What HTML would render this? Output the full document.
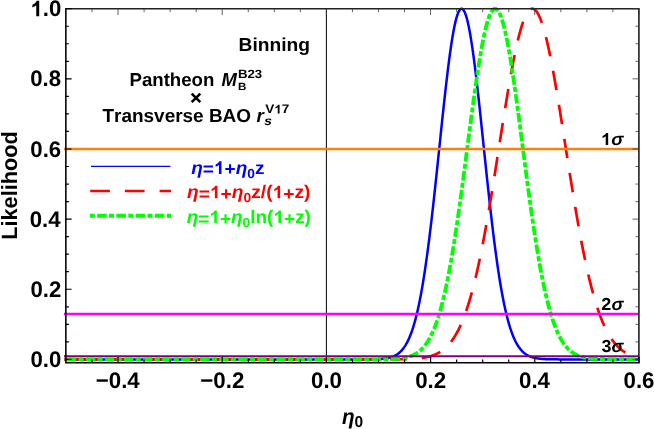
<!DOCTYPE html>
<html><head><meta charset="utf-8"><title>Likelihood</title>
<style>
html,body{margin:0;padding:0;background:#fff;}
body{width:654px;height:429px;overflow:hidden;position:relative;font-family:"Liberation Sans",sans-serif;}
svg{position:absolute;left:0;top:0;display:block;will-change:transform;}
text{font-family:"Liberation Sans",sans-serif;font-weight:bold;text-rendering:geometricPrecision;font-kerning:none;}
</style></head><body>
<svg width="654" height="429" viewBox="0 0 654 429">
<rect x="0" y="0" width="654" height="429" fill="#fff"/>
<defs><clipPath id="cp"><rect x="64.00" y="5.70" width="575.70" height="357.60"/></clipPath></defs>
<g clip-path="url(#cp)">
<line x1="326.40" y1="8.7" x2="326.40" y2="362.7" stroke="#000" stroke-width="1"/>
<path d="M64.00,359.40 L356.20,359.40 L359.71,359.39 L361.71,359.39 L363.21,359.38 L364.21,359.38 L365.21,359.37 L366.21,359.37 L367.21,359.36 L367.71,359.36 L368.21,359.35 L368.71,359.35 L369.21,359.34 L369.71,359.34 L370.21,359.33 L370.71,359.32 L371.21,359.32 L371.71,359.31 L372.21,359.30 L372.71,359.29 L373.21,359.28 L373.72,359.27 L374.22,359.25 L374.72,359.24 L375.22,359.23 L375.72,359.21 L376.22,359.19 L376.72,359.17 L377.22,359.15 L377.72,359.13 L378.22,359.11 L378.72,359.08 L379.22,359.05 L379.72,359.02 L380.22,358.99 L380.72,358.95 L381.22,358.92 L381.72,358.88 L382.22,358.83 L382.72,358.78 L383.22,358.73 L383.72,358.68 L384.22,358.62 L384.72,358.55 L385.22,358.48 L385.72,358.41 L386.22,358.33 L386.72,358.24 L387.22,358.15 L387.72,358.06 L388.23,357.95 L388.73,357.84 L389.23,357.72 L389.73,357.59 L390.23,357.45 L390.73,357.31 L391.23,357.15 L391.73,356.98 L392.23,356.80 L392.73,356.61 L393.23,356.41 L393.73,356.20 L394.23,355.97 L394.73,355.72 L395.23,355.47 L395.73,355.19 L396.23,354.90 L396.73,354.59 L397.23,354.26 L397.73,353.92 L398.23,353.55 L398.73,353.16 L399.23,352.75 L399.73,352.31 L400.23,351.85 L400.73,351.37 L401.23,350.85 L401.73,350.31 L402.23,349.74 L402.74,349.14 L403.24,348.51 L403.74,347.84 L404.24,347.14 L404.74,346.41 L405.24,345.64 L405.74,344.83 L406.24,343.97 L406.74,343.08 L407.24,342.15 L407.74,341.17 L408.24,340.14 L408.74,339.07 L409.24,337.95 L409.74,336.78 L410.24,335.55 L410.74,334.28 L411.24,332.95 L411.74,331.56 L412.24,330.11 L412.74,328.61 L413.24,327.04 L413.74,325.41 L414.24,323.72 L414.74,321.97 L415.24,320.14 L415.74,318.25 L416.24,316.29 L416.75,314.26 L417.25,312.16 L417.75,309.98 L418.25,307.74 L418.75,305.41 L419.25,303.02 L419.75,300.54 L420.25,297.99 L420.75,295.36 L421.25,292.65 L421.75,289.86 L422.25,287.00 L422.75,284.05 L423.25,281.02 L423.75,277.92 L424.25,274.73 L424.75,271.46 L425.25,268.12 L425.75,264.69 L426.25,261.19 L426.75,257.61 L427.25,253.95 L427.75,250.22 L428.25,246.42 L428.75,242.54 L429.25,238.58 L429.75,234.56 L430.25,230.47 L430.75,226.32 L431.26,222.10 L431.76,217.82 L432.26,213.48 L432.76,209.09 L433.26,204.64 L433.76,200.14 L434.26,195.59 L434.76,191.01 L435.26,186.38 L435.76,181.71 L436.26,177.01 L436.76,172.28 L437.26,167.53 L437.76,162.76 L438.26,157.97 L438.76,153.17 L439.26,148.37 L439.76,143.56 L440.26,138.76 L440.76,133.96 L441.26,129.18 L441.76,124.41 L442.26,119.68 L442.76,114.96 L443.26,110.29 L443.76,105.65 L444.26,101.06 L444.76,96.52 L445.26,92.04 L445.77,87.62 L446.27,83.27 L446.77,78.99 L447.27,74.80 L447.77,70.68 L448.27,66.66 L448.77,62.73 L449.27,58.90 L449.77,55.18 L450.27,51.57 L450.77,48.08 L451.27,44.71 L451.77,41.46 L452.27,38.34 L452.77,35.36 L453.27,32.52 L453.77,29.82 L454.27,27.27 L454.77,24.87 L455.27,22.62 L455.77,20.54 L456.27,18.61 L456.77,16.85 L457.27,15.25 L457.77,13.83 L458.27,12.57 L458.77,11.49 L459.27,10.59 L459.77,9.86 L460.28,9.30 L460.78,8.93 L461.28,8.73 L461.78,8.71 L462.28,8.88 L462.78,9.22 L463.28,9.74 L463.78,10.43 L464.28,11.31 L464.78,12.36 L465.28,13.58 L465.78,14.97 L466.28,16.53 L466.78,18.26 L467.28,20.16 L467.78,22.22 L468.28,24.43 L468.78,26.80 L469.28,29.33 L469.78,32.00 L470.28,34.81 L470.78,37.77 L471.28,40.86 L471.78,44.08 L472.28,47.43 L472.78,50.90 L473.28,54.49 L473.78,58.19 L474.28,62.00 L474.79,65.91 L475.29,69.91 L475.79,74.01 L476.29,78.19 L476.79,82.46 L477.29,86.79 L477.79,91.20 L478.29,95.67 L478.79,100.20 L479.29,104.78 L479.79,109.41 L480.29,114.07 L480.79,118.78 L481.29,123.51 L481.79,128.27 L482.29,133.05 L482.79,137.85 L483.29,142.65 L483.79,147.46 L484.29,152.26 L484.79,157.06 L485.29,161.85 L485.79,166.63 L486.29,171.38 L486.79,176.12 L487.29,180.82 L487.79,185.49 L488.29,190.13 L488.80,194.73 L489.30,199.28 L489.80,203.79 L490.30,208.25 L490.80,212.65 L491.30,217.00 L491.80,221.29 L492.30,225.52 L492.80,229.69 L493.30,233.79 L493.80,237.83 L494.30,241.79 L494.80,245.69 L495.30,249.51 L495.80,253.25 L496.30,256.92 L496.80,260.52 L497.30,264.04 L497.80,267.47 L498.30,270.84 L498.80,274.12 L499.30,277.32 L499.80,280.44 L500.30,283.48 L500.80,286.44 L501.30,289.33 L501.80,292.13 L502.30,294.85 L502.80,297.50 L503.31,300.06 L503.81,302.55 L504.31,304.97 L504.81,307.30 L505.31,309.56 L505.81,311.75 L506.31,313.87 L506.81,315.91 L507.31,317.88 L507.81,319.79 L508.31,321.62 L508.81,323.39 L509.31,325.10 L509.81,326.74 L510.31,328.32 L510.81,329.83 L511.31,331.29 L511.81,332.69 L512.31,334.03 L512.81,335.32 L513.31,336.55 L513.81,337.73 L514.31,338.86 L514.81,339.94 L515.31,340.98 L515.81,341.96 L516.31,342.91 L516.81,343.81 L517.31,344.67 L517.82,345.49 L518.32,346.27 L518.82,347.01 L519.32,347.71 L519.82,348.39 L520.32,349.02 L520.82,349.63 L521.32,350.21 L521.82,350.75 L522.32,351.27 L522.82,351.76 L523.32,352.23 L523.82,352.67 L524.32,353.08 L524.82,353.48 L525.32,353.85 L525.82,354.20 L526.32,354.53 L526.82,354.84 L527.32,355.14 L527.82,355.42 L528.32,355.68 L528.82,355.92 L529.32,356.15 L529.82,356.37 L530.32,356.58 L530.82,356.77 L531.32,356.95 L531.82,357.12 L532.33,357.28 L532.83,357.43 L533.33,357.56 L533.83,357.69 L534.33,357.82 L534.83,357.93 L535.33,358.04 L535.83,358.14 L536.33,358.23 L536.83,358.31 L537.33,358.39 L537.83,358.47 L538.33,358.54 L538.83,358.60 L539.33,358.67 L539.83,358.72 L540.33,358.77 L540.83,358.82 L541.33,358.87 L541.83,358.91 L542.33,358.95 L542.83,358.98 L543.33,359.02 L543.83,359.05 L544.33,359.08 L544.83,359.10 L545.33,359.13 L545.83,359.15 L546.34,359.17 L546.84,359.19 L547.34,359.21 L547.84,359.22 L548.34,359.24 L548.84,359.25 L549.34,359.26 L549.84,359.28 L550.34,359.29 L550.84,359.30 L551.34,359.31 L551.84,359.31 L552.34,359.32 L552.84,359.33 L553.34,359.33 L553.84,359.34 L554.34,359.35 L554.84,359.35 L555.34,359.36 L555.84,359.36 L556.84,359.37 L557.84,359.37 L558.84,359.38 L559.84,359.38 L561.35,359.39 L563.35,359.39 L566.35,359.40 L574.85,359.40 L639.90,359.40" fill="none" stroke="#0000ff" stroke-width="2.50" stroke-linejoin="round"/>
<path d="M64.00,359.40 L78.20,359.40" fill="none" stroke="#ff0000" stroke-width="2.70" stroke-linejoin="round"/>
<path d="M77.90,359.40 L373.99,359.40 L378.99,359.39 L381.99,359.39 L384.50,359.38 L386.50,359.38 L388.00,359.37 L389.50,359.37 L390.50,359.36 L391.50,359.36 L392.50,359.35 L393.50,359.34 L394.50,359.34 L395.00,359.33 L395.50,359.33 L396.00,359.32 L396.50,359.32 L397.00,359.31 L397.50,359.31 L398.00,359.30 L398.50,359.29 L399.00,359.29 L399.50,359.28 L400.00,359.27" fill="none" stroke="#ff0000" stroke-width="2.70" stroke-dasharray="19.7 15.0" stroke-dashoffset="0.00" stroke-linejoin="round"/>
<path d="M400.00,359.27 L400.50,359.27 L400.75,359.26 L401.00,359.26 L401.25,359.25 L401.50,359.25 L401.75,359.24 L402.00,359.24 L402.25,359.23 L402.50,359.23 L402.75,359.22 L403.00,359.22 L403.25,359.21 L403.50,359.21 L403.75,359.20 L404.00,359.20 L404.25,359.19 L404.50,359.18 L404.75,359.18 L405.00,359.17 L405.25,359.17 L405.50,359.16 L405.75,359.15 L406.00,359.14 L406.25,359.14 L406.50,359.13 L406.75,359.12 L407.00,359.11 L407.25,359.10 L407.50,359.10 L407.75,359.09 L408.01,359.08 L408.26,359.07 L408.51,359.06 L408.76,359.05 L409.01,359.04 L409.26,359.03 L409.51,359.02 L409.76,359.01 L410.01,359.00 L410.26,358.99 L410.51,358.98 L410.76,358.96 L411.01,358.95 L411.26,358.94 L411.51,358.93 L411.76,358.91 L412.01,358.90 L412.26,358.89 L412.51,358.87 L412.76,358.86 L413.01,358.84 L413.26,358.83 L413.51,358.81 L413.76,358.80 L414.01,358.78 L414.26,358.76 L414.51,358.74 L414.76,358.73 L415.01,358.71 L415.26,358.69 L415.51,358.67 L415.76,358.65 L416.01,358.63 L416.26,358.61 L416.51,358.59 L416.76,358.57 L417.01,358.55 L417.26,358.52 L417.51,358.50 L417.76,358.48 L418.01,358.45 L418.26,358.43 L418.51,358.40 L418.76,358.38 L419.01,358.35 L419.26,358.32 L419.51,358.30 L419.76,358.27 L420.01,358.24 L420.26,358.21 L420.51,358.18 L420.76,358.15 L421.01,358.11 L421.26,358.08 L421.51,358.05 L421.76,358.01 L422.01,357.98 L422.26,357.94 L422.51,357.90 L422.76,357.87 L423.01,357.83 L423.26,357.79 L423.51,357.75 L423.76,357.71 L424.02,357.67 L424.27,357.62 L424.52,357.58 L424.77,357.53 L425.02,357.49 L425.27,357.44 L425.52,357.39 L425.77,357.34 L426.02,357.29 L426.27,357.24 L426.52,357.19 L426.77,357.14 L427.02,357.08 L427.27,357.03 L427.52,356.97 L427.77,356.91 L428.02,356.85 L428.27,356.79 L428.52,356.73 L428.77,356.66 L429.02,356.60 L429.27,356.53 L429.52,356.47 L429.77,356.40 L430.02,356.33 L430.27,356.25 L430.52,356.18 L430.77,356.11 L431.02,356.03 L431.27,355.95 L431.52,355.87 L431.77,355.79 L432.02,355.71 L432.27,355.62 L432.52,355.54 L432.77,355.45 L433.02,355.36 L433.27,355.27 L433.52,355.17 L433.77,355.08 L434.02,354.98 L434.27,354.88 L434.52,354.78 L434.77,354.68 L435.02,354.57 L435.27,354.46 L435.52,354.35 L435.77,354.24 L436.02,354.13 L436.27,354.01 L436.52,353.89 L436.77,353.77 L437.02,353.65 L437.27,353.52 L437.52,353.40 L437.77,353.27 L438.02,353.13 L438.27,353.00 L438.52,352.86 L438.77,352.72 L439.02,352.58 L439.27,352.43 L439.52,352.28 L439.77,352.13 L440.03,351.98 L440.28,351.82 L440.53,351.66 L440.78,351.50 L441.03,351.34 L441.28,351.17 L441.53,351.00 L441.78,350.82 L442.03,350.64 L442.28,350.46 L442.53,350.28 L442.78,350.09 L443.03,349.90 L443.28,349.71 L443.53,349.51 L443.78,349.31 L444.03,349.11 L444.28,348.90 L444.53,348.69 L444.78,348.47 L445.03,348.25 L445.28,348.03 L445.53,347.81 L445.78,347.58 L446.03,347.34 L446.28,347.11 L446.53,346.86 L446.78,346.62 L447.03,346.37 L447.28,346.12 L447.53,345.86 L447.78,345.60 L448.03,345.33 L448.28,345.06 L448.53,344.78 L448.78,344.50 L449.03,344.22 L449.28,343.93 L449.53,343.64 L449.78,343.34 L450.03,343.04 L450.28,342.73 L450.53,342.42 L450.78,342.10 L451.03,341.78 L451.28,341.45 L451.53,341.12 L451.78,340.78 L452.03,340.44 L452.28,340.09 L452.53,339.74 L452.78,339.38 L453.03,339.02 L453.28,338.65 L453.53,338.28 L453.78,337.90 L454.03,337.51 L454.28,337.12 L454.53,336.72 L454.78,336.32 L455.03,335.91 L455.28,335.50 L455.53,335.08 L455.78,334.65 L456.04,334.22 L456.29,333.78 L456.54,333.34 L456.79,332.89 L457.04,332.43 L457.29,331.97 L457.54,331.50 L457.79,331.02 L458.04,330.54 L458.29,330.05 L458.54,329.56 L458.79,329.06 L459.04,328.55 L459.29,328.03 L459.54,327.51 L459.79,326.98 L460.04,326.44 L460.29,325.90 L460.54,325.35 L460.79,324.79 L461.04,324.23 L461.29,323.66 L461.54,323.08 L461.79,322.49 L462.04,321.90 L462.29,321.30 L462.54,320.69 L462.79,320.08 L463.04,319.45 L463.29,318.82 L463.54,318.19 L463.79,317.54 L464.04,316.89 L464.29,316.22 L464.54,315.56 L464.79,314.88 L465.04,314.19 L465.29,313.50 L465.54,312.80 L465.79,312.09 L466.04,311.37 L466.29,310.65 L466.54,309.92 L466.79,309.18 L467.04,308.43 L467.29,307.67 L467.54,306.90 L467.79,306.13 L468.04,305.35 L468.29,304.55 L468.54,303.75 L468.79,302.95 L469.04,302.13 L469.29,301.31 L469.54,300.47 L469.79,299.63 L470.04,298.78 L470.29,297.92 L470.54,297.05 L470.79,296.18 L471.04,295.29 L471.29,294.40 L471.54,293.49 L471.79,292.58 L472.05,291.66 L472.30,290.73 L472.55,289.79 L472.80,288.85 L473.05,287.89 L473.30,286.93 L473.55,285.96 L473.80,284.97 L474.05,283.98 L474.30,282.98 L474.55,281.97 L474.80,280.96 L475.05,279.93 L475.30,278.90 L475.55,277.85 L475.80,276.80 L476.05,275.74 L476.30,274.67 L476.55,273.59 L476.80,272.50 L477.05,271.40 L477.30,270.30 L477.55,269.18 L477.80,268.06 L478.05,266.92 L478.30,265.78 L478.55,264.63 L478.80,263.48 L479.05,262.31 L479.30,261.13 L479.55,259.95 L479.80,258.76 L480.05,257.56 L480.30,256.35 L480.55,255.13 L480.80,253.90 L481.05,252.67 L481.30,251.42 L481.55,250.17 L481.80,248.91 L482.05,247.64 L482.30,246.37 L482.55,245.08 L482.80,243.79 L483.05,242.49 L483.30,241.18 L483.55,239.86 L483.80,238.54 L484.05,237.21 L484.30,235.87 L484.55,234.52 L484.80,233.17 L485.05,231.81 L485.30,230.44 L485.55,229.06 L485.80,227.67 L486.05,226.28 L486.30,224.89 L486.55,223.48 L486.80,222.07 L487.05,220.65 L487.30,219.22 L487.55,217.79 L487.80,216.35 L488.06,214.91 L488.31,213.46 L488.56,212.00 L488.81,210.53 L489.06,209.06 L489.31,207.59 L489.56,206.11 L489.81,204.62 L490.06,203.13 L490.31,201.63 L490.56,200.12 L490.81,198.62 L491.06,197.10 L491.31,195.58 L491.56,194.06 L491.81,192.53 L492.06,191.00 L492.31,189.46 L492.56,187.92 L492.81,186.37 L493.06,184.82 L493.31,183.27 L493.56,181.71 L493.81,180.15 L494.06,178.58 L494.31,177.01 L494.56,175.44 L494.81,173.87 L495.06,172.29 L495.31,170.71 L495.56,169.13 L495.81,167.54 L496.06,165.96 L496.31,164.37 L496.56,162.78 L496.81,161.18 L497.06,159.59 L497.31,157.99 L497.56,156.39 L497.81,154.80 L498.06,153.20 L498.31,151.60 L498.56,150.00 L498.81,148.40 L499.06,146.79 L499.31,145.19 L499.56,143.59 L499.81,141.99 L500.06,140.39 L500.31,138.79 L500.56,137.19 L500.81,135.60 L501.06,134.00 L501.31,132.41 L501.56,130.81 L501.81,129.22 L502.06,127.63 L502.31,126.05 L502.56,124.46 L502.81,122.88 L503.06,121.30 L503.31,119.73 L503.56,118.15 L503.81,116.59 L504.07,115.02 L504.32,113.46 L504.57,111.90 L504.82,110.35 L505.07,108.80 L505.32,107.25 L505.57,105.72 L505.82,104.18 L506.07,102.65 L506.32,101.13 L506.57,99.61 L506.82,98.10 L507.07,96.59 L507.32,95.09 L507.57,93.60 L507.82,92.11 L508.07,90.64 L508.32,89.16 L508.57,87.70 L508.82,86.24 L509.07,84.79 L509.32,83.35 L509.57,81.92 L509.82,80.49 L510.07,79.07 L510.32,77.67 L510.57,76.27 L510.82,74.88 L511.07,73.50 L511.32,72.13 L511.57,70.77 L511.82,69.41 L512.07,68.07 L512.32,66.74 L512.57,65.42 L512.82,64.11 L513.07,62.82 L513.32,61.53 L513.57,60.25 L513.82,58.99 L514.07,57.74 L514.32,56.50 L514.57,55.27 L514.82,54.05 L515.07,52.85 L515.32,51.66 L515.57,50.48 L515.82,49.32 L516.07,48.17 L516.32,47.03 L516.57,45.90 L516.82,44.79 L517.07,43.70 L517.32,42.61 L517.57,41.55 L517.82,40.49 L518.07,39.45 L518.32,38.43 L518.57,37.42 L518.82,36.42 L519.07,35.45 L519.32,34.48 L519.57,33.53 L519.82,32.60 L520.08,31.69 L520.33,30.78 L520.58,29.90 L520.83,29.03 L521.08,28.18 L521.33,27.35 L521.58,26.53 L521.83,25.73 L522.08,24.94 L522.33,24.18 L522.58,23.43 L522.83,22.70 L523.08,21.98 L523.33,21.28 L523.58,20.61 L523.83,19.94 L524.08,19.30 L524.33,18.68 L524.58,18.07 L524.83,17.48 L525.08,16.91 L525.33,16.36 L525.58,15.82 L525.83,15.31 L526.08,14.81 L526.33,14.34 L526.58,13.88 L526.83,13.44 L527.08,13.02 L527.33,12.62 L527.58,12.24 L527.83,11.87 L528.08,11.53 L528.33,11.21 L528.58,10.90 L528.83,10.62 L529.08,10.35 L529.33,10.11 L529.58,9.88 L529.83,9.68 L530.08,9.49 L530.33,9.32 L530.58,9.17 L530.83,9.05 L531.08,8.94 L531.33,8.85 L531.58,8.78 L531.83,8.74 L532.08,8.71 L532.33,8.70 L532.58,8.71 L532.83,8.74 L533.08,8.79 L533.33,8.87 L533.58,8.96 L533.83,9.07 L534.08,9.20 L534.33,9.35 L534.58,9.52 L534.83,9.71 L535.08,9.92 L535.33,10.15 L535.58,10.40 L535.83,10.67 L536.09,10.95 L536.34,11.26 L536.59,11.59 L536.84,11.93 L537.09,12.30 L537.34,12.68 L537.59,13.09 L537.84,13.51 L538.09,13.95 L538.34,14.42 L538.59,14.90 L538.84,15.39 L539.09,15.91 L539.34,16.45 L539.59,17.00 L539.84,17.58 L540.09,18.17 L540.34,18.78 L540.59,19.41 L540.84,20.05 L541.09,20.72 L541.34,21.40 L541.59,22.10 L541.84,22.82 L542.09,23.55 L542.34,24.31 L542.59,25.07 L542.84,25.86 L543.09,26.67 L543.34,27.49 L543.59,28.32 L543.84,29.18 L544.09,30.05 L544.34,30.93 L544.59,31.84 L544.84,32.76 L545.09,33.69 L545.34,34.64 L545.59,35.61 L545.84,36.59 L546.09,37.59 L546.34,38.60 L546.59,39.63 L546.84,40.67 L547.09,41.72 L547.34,42.79 L547.59,43.88 L547.84,44.98 L548.09,46.09 L548.34,47.22 L548.59,48.36 L548.84,49.51 L549.09,50.68 L549.34,51.86 L549.59,53.05 L549.84,54.26 L550.09,55.47 L550.34,56.70 L550.59,57.95 L550.84,59.20 L551.09,60.47 L551.34,61.74 L551.59,63.03 L551.84,64.33 L552.10,65.64 L552.35,66.97 L552.60,68.30 L552.85,69.64 L553.10,70.99 L553.35,72.36 L553.60,73.73 L553.85,75.11 L554.10,76.50 L554.35,77.90 L554.60,79.31 L554.85,80.73 L555.10,82.16 L555.35,83.59 L555.60,85.03 L555.85,86.48 L556.10,87.94 L556.35,89.41 L556.60,90.88 L556.85,92.36 L557.10,93.85 L557.35,95.34 L557.60,96.85 L557.85,98.35 L558.10,99.87 L558.35,101.38 L558.60,102.91 L558.85,104.44 L559.10,105.97 L559.35,107.51 L559.60,109.06 L559.85,110.61 L560.10,112.16 L560.35,113.72 L560.60,115.28 L560.85,116.85 L561.10,118.42 L561.35,119.99 L561.60,121.57 L561.85,123.15 L562.10,124.73 L562.35,126.31 L562.60,127.90 L562.85,129.49 L563.10,131.08 L563.35,132.67 L563.60,134.27 L563.85,135.86 L564.10,137.46 L564.35,139.06 L564.60,140.66 L564.85,142.26 L565.10,143.86 L565.35,145.46 L565.60,147.06 L565.85,148.66 L566.10,150.27 L566.35,151.87 L566.60,153.47 L566.85,155.06 L567.10,156.66 L567.35,158.26 L567.60,159.86 L567.85,161.45 L568.11,163.04 L568.36,164.63 L568.61,166.22 L568.86,167.81 L569.11,169.39 L569.36,170.98 L569.61,172.56 L569.86,174.13 L570.11,175.71 L570.36,177.28 L570.61,178.85 L570.86,180.41 L571.11,181.97 L571.36,183.53 L571.61,185.08 L571.86,186.63 L572.11,188.18 L572.36,189.72 L572.61,191.25 L572.86,192.79 L573.11,194.31 L573.36,195.84 L573.61,197.36 L573.86,198.87 L574.11,200.38 L574.36,201.88 L574.61,203.38 L574.86,204.87 L575.11,206.36 L575.36,207.84 L575.61,209.31 L575.86,210.78 L576.11,212.24 L576.36,213.70 L576.61,215.15 L576.86,216.59 L577.11,218.03 L577.36,219.46 L577.61,220.89 L577.86,222.31 L578.11,223.72 L578.36,225.12 L578.61,226.52 L578.86,227.91 L579.11,229.29 L579.36,230.67 L579.61,232.03 L579.86,233.39 L580.11,234.75 L580.36,236.09 L580.61,237.43 L580.86,238.76 L581.11,240.09 L581.36,241.40 L581.61,242.71 L581.86,244.01 L582.11,245.30 L582.36,246.58 L582.61,247.86 L582.86,249.12 L583.11,250.38 L583.36,251.63 L583.61,252.87 L583.86,254.11 L584.12,255.33 L584.37,256.55 L584.62,257.76 L584.87,258.96 L585.12,260.15 L585.37,261.33 L585.62,262.51 L585.87,263.67 L586.12,264.83 L586.37,265.98 L586.62,267.12 L586.87,268.25 L587.12,269.37 L587.37,270.48 L587.62,271.59 L587.87,272.68 L588.12,273.77 L588.37,274.85 L588.62,275.91 L588.87,276.98 L589.12,278.03 L589.37,279.07 L589.62,280.10 L589.87,281.13 L590.12,282.14 L590.37,283.15 L590.62,284.15 L590.87,285.14 L591.12,286.12 L591.37,287.09 L591.62,288.05 L591.87,289.01 L592.12,289.95 L592.37,290.89 L592.62,291.82 L592.87,292.74 L593.12,293.65 L593.37,294.55 L593.62,295.44 L593.87,296.32 L594.12,297.20 L594.37,298.06 L594.62,298.92 L594.87,299.77 L595.12,300.61 L595.37,301.44 L595.62,302.27 L595.87,303.08 L596.12,303.89 L596.37,304.69 L596.62,305.48 L596.87,306.26 L597.12,307.03 L597.37,307.80 L597.62,308.55 L597.87,309.30 L598.12,310.04 L598.37,310.77 L598.62,311.50 L598.87,312.21 L599.12,312.92 L599.37,313.62 L599.62,314.31 L599.87,314.99 L600.13,315.67 L600.38,316.34 L600.63,317.00 L600.88,317.65 L601.13,318.29 L601.38,318.93 L601.63,319.56 L601.88,320.18 L602.13,320.79 L602.38,321.40 L602.63,322.00 L602.88,322.59 L603.13,323.18 L603.38,323.75 L603.63,324.32 L603.88,324.89 L604.13,325.44 L604.38,325.99 L604.63,326.53 L604.88,327.07 L605.13,327.60 L605.38,328.12 L605.63,328.63 L605.88,329.14 L606.13,329.64 L606.38,330.14 L606.63,330.62 L606.88,331.10 L607.13,331.58 L607.38,332.05 L607.63,332.51 L607.88,332.96 L608.13,333.41 L608.38,333.86 L608.63,334.29 L608.88,334.73 L609.13,335.15 L609.38,335.57 L609.63,335.98 L609.88,336.39 L610.13,336.79 L610.38,337.19 L610.63,337.58 L610.88,337.96 L611.13,338.34 L611.38,338.71 L611.63,339.08 L611.88,339.44 L612.13,339.80 L612.38,340.15 L612.63,340.50 L612.88,340.84 L613.13,341.18 L613.38,341.51 L613.63,341.83 L613.88,342.15 L614.13,342.47 L614.38,342.78 L614.63,343.09 L614.88,343.39 L615.13,343.69 L615.38,343.98 L615.63,344.27 L615.88,344.55 L616.14,344.83 L616.39,345.10 L616.64,345.37 L616.89,345.64 L617.14,345.90 L617.39,346.16 L617.64,346.41 L617.89,346.66 L618.14,346.90 L618.39,347.15 L618.64,347.38 L618.89,347.62 L619.14,347.84 L619.39,348.07 L619.64,348.29 L619.89,348.51 L620.14,348.72 L620.39,348.93 L620.64,349.14 L620.89,349.34 L621.14,349.54 L621.39,349.74 L621.64,349.93 L621.89,350.12 L622.14,350.31 L622.39,350.49 L622.64,350.67 L622.89,350.85 L623.14,351.03 L623.39,351.20 L623.64,351.36 L623.89,351.53 L624.14,351.69 L624.39,351.85 L624.64,352.01 L624.89,352.16 L625.14,352.31 L625.39,352.46 L625.64,352.60 L625.89,352.74 L626.14,352.88 L626.39,353.02 L626.64,353.16 L626.89,353.29 L627.14,353.42 L627.39,353.54 L627.64,353.67 L627.89,353.79 L628.14,353.91 L628.39,354.03 L628.64,354.15 L628.89,354.26 L629.14,354.37 L629.39,354.48 L629.64,354.59 L629.89,354.69 L630.14,354.80 L630.39,354.90 L630.64,355.00 L630.89,355.09 L631.14,355.19 L631.39,355.28 L631.64,355.37 L631.89,355.46 L632.15,355.55 L632.40,355.64 L632.65,355.72 L632.90,355.80 L633.15,355.89 L633.40,355.96 L633.65,356.04 L633.90,356.12 L634.15,356.19 L634.40,356.27 L634.65,356.34 L634.90,356.41 L635.15,356.48 L635.40,356.54 L635.65,356.61 L635.90,356.68 L636.15,356.74 L636.40,356.80 L636.65,356.86 L636.90,356.92 L637.15,356.98 L637.40,357.04 L637.65,357.09 L637.90,357.15 L638.15,357.20 L638.40,357.25 L638.65,357.30 L638.90,357.35 L639.15,357.40 L639.40,357.45 L639.65,357.50 L639.90,357.54" fill="none" stroke="#ff0000" stroke-width="2.70" stroke-dasharray="19.56 14.89" stroke-dashoffset="12.64" stroke-linejoin="round"/>
<path d="M64.00,359.40 L363.50,359.40 L368.00,359.39 L370.50,359.39 L372.50,359.38 L374.00,359.38 L375.00,359.37 L376.00,359.37 L377.00,359.36 L378.00,359.36 L379.00,359.35 L379.50,359.35 L380.00,359.34 L380.50,359.34 L381.00,359.33 L381.50,359.33 L382.00,359.32 L382.50,359.31 L383.00,359.31 L383.50,359.30 L384.00,359.29 L384.50,359.28 L385.00,359.28 L385.50,359.27 L386.00,359.26 L386.50,359.25 L387.00,359.23 L387.50,359.22 L388.00,359.21 L388.50,359.20 L389.00,359.18 L389.50,359.17 L390.00,359.15 L390.50,359.13 L391.00,359.11 L391.50,359.09 L392.00,359.07 L392.50,359.05 L393.00,359.02 L393.50,359.00 L394.00,358.97 L394.50,358.94 L395.00,358.91 L395.50,358.87 L396.00,358.84 L396.50,358.80 L397.00,358.76 L397.50,358.72 L398.00,358.67 L398.50,358.63 L399.00,358.58 L399.50,358.52 L400.00,358.47" fill="none" stroke="#00ff00" stroke-width="3.80" stroke-dasharray="5.05 2.30 9.40 2.30" stroke-dashoffset="4.55" stroke-linejoin="round"/>
<path d="M400.00,358.47 L400.25,358.44 L400.50,358.41 L400.75,358.38 L401.00,358.34 L401.25,358.31 L401.50,358.28 L401.75,358.24 L402.00,358.21 L402.25,358.17 L402.50,358.13 L402.75,358.09 L403.00,358.05 L403.25,358.01 L403.50,357.97 L403.75,357.92 L404.00,357.88 L404.25,357.83 L404.50,357.78 L404.75,357.74 L405.00,357.69 L405.25,357.63 L405.50,357.58 L405.75,357.53 L406.00,357.47 L406.25,357.42 L406.50,357.36 L406.75,357.30 L407.00,357.23 L407.25,357.17 L407.50,357.11 L407.75,357.04 L408.01,356.97 L408.26,356.90 L408.51,356.83 L408.76,356.75 L409.01,356.68 L409.26,356.60 L409.51,356.52 L409.76,356.44 L410.01,356.36 L410.26,356.27 L410.51,356.18 L410.76,356.09 L411.01,356.00 L411.26,355.90 L411.51,355.81 L411.76,355.71 L412.01,355.60 L412.26,355.50 L412.51,355.39 L412.76,355.28 L413.01,355.17 L413.26,355.05 L413.51,354.94 L413.76,354.81 L414.01,354.69 L414.26,354.56 L414.51,354.43 L414.76,354.30 L415.01,354.16 L415.26,354.03 L415.51,353.88 L415.76,353.74 L416.01,353.59 L416.26,353.44 L416.51,353.28 L416.76,353.12 L417.01,352.96 L417.26,352.79 L417.51,352.62 L417.76,352.45 L418.01,352.27 L418.26,352.08 L418.51,351.90 L418.76,351.71 L419.01,351.51 L419.26,351.31 L419.51,351.11 L419.76,350.90 L420.01,350.69 L420.26,350.47 L420.51,350.25 L420.76,350.03 L421.01,349.79 L421.26,349.56 L421.51,349.32 L421.76,349.07 L422.01,348.82 L422.26,348.56 L422.51,348.30 L422.76,348.04 L423.01,347.76 L423.26,347.49 L423.51,347.20 L423.76,346.91 L424.02,346.62 L424.27,346.32 L424.52,346.01 L424.77,345.70 L425.02,345.38 L425.27,345.05 L425.52,344.72 L425.77,344.38 L426.02,344.04 L426.27,343.68 L426.52,343.33 L426.77,342.96 L427.02,342.59 L427.27,342.21 L427.52,341.82 L427.77,341.43 L428.02,341.03 L428.27,340.62 L428.52,340.21 L428.77,339.78 L429.02,339.35 L429.27,338.91 L429.52,338.47 L429.77,338.01 L430.02,337.55 L430.27,337.08 L430.52,336.60 L430.77,336.11 L431.02,335.62 L431.27,335.11 L431.52,334.60 L431.77,334.08 L432.02,333.55 L432.27,333.01 L432.52,332.46 L432.77,331.90 L433.02,331.34 L433.27,330.76 L433.52,330.18 L433.77,329.58 L434.02,328.98 L434.27,328.36 L434.52,327.74 L434.77,327.10 L435.02,326.46 L435.27,325.80 L435.52,325.14 L435.77,324.47 L436.02,323.78 L436.27,323.09 L436.52,322.38 L436.77,321.66 L437.02,320.94 L437.27,320.20 L437.52,319.45 L437.77,318.69 L438.02,317.92 L438.27,317.13 L438.52,316.34 L438.77,315.54 L439.02,314.72 L439.27,313.89 L439.52,313.05 L439.77,312.20 L440.03,311.34 L440.28,310.47 L440.53,309.58 L440.78,308.68 L441.03,307.77 L441.28,306.85 L441.53,305.92 L441.78,304.97 L442.03,304.01 L442.28,303.04 L442.53,302.06 L442.78,301.07 L443.03,300.06 L443.28,299.04 L443.53,298.01 L443.78,296.96 L444.03,295.90 L444.28,294.83 L444.53,293.75 L444.78,292.66 L445.03,291.55 L445.28,290.43 L445.53,289.29 L445.78,288.15 L446.03,286.99 L446.28,285.82 L446.53,284.63 L446.78,283.43 L447.03,282.22 L447.28,281.00 L447.53,279.76 L447.78,278.52 L448.03,277.25 L448.28,275.98 L448.53,274.69 L448.78,273.39 L449.03,272.08 L449.28,270.75 L449.53,269.41 L449.78,268.06 L450.03,266.70 L450.28,265.32 L450.53,263.93 L450.78,262.53 L451.03,261.12 L451.28,259.69 L451.53,258.25 L451.78,256.80 L452.03,255.34 L452.28,253.86 L452.53,252.37 L452.78,250.87 L453.03,249.36 L453.28,247.84 L453.53,246.30 L453.78,244.75 L454.03,243.19 L454.28,241.62 L454.53,240.04 L454.78,238.45 L455.03,236.84 L455.28,235.23 L455.53,233.60 L455.78,231.96 L456.04,230.31 L456.29,228.65 L456.54,226.98 L456.79,225.31 L457.04,223.62 L457.29,221.92 L457.54,220.21 L457.79,218.49 L458.04,216.76 L458.29,215.02 L458.54,213.27 L458.79,211.51 L459.04,209.75 L459.29,207.98 L459.54,206.19 L459.79,204.40 L460.04,202.60 L460.29,200.80 L460.54,198.98 L460.79,197.16 L461.04,195.33 L461.29,193.50 L461.54,191.65 L461.79,189.80 L462.04,187.95 L462.29,186.09 L462.54,184.22 L462.79,182.35 L463.04,180.47 L463.29,178.59 L463.54,176.70 L463.79,174.80 L464.04,172.91 L464.29,171.01 L464.54,169.10 L464.79,167.19 L465.04,165.28 L465.29,163.37 L465.54,161.45 L465.79,159.53 L466.04,157.61 L466.29,155.69 L466.54,153.76 L466.79,151.84 L467.04,149.91 L467.29,147.98 L467.54,146.05 L467.79,144.13 L468.04,142.20 L468.29,140.27 L468.54,138.35 L468.79,136.43 L469.04,134.50 L469.29,132.58 L469.54,130.67 L469.79,128.75 L470.04,126.84 L470.29,124.93 L470.54,123.03 L470.79,121.13 L471.04,119.23 L471.29,117.34 L471.54,115.45 L471.79,113.57 L472.05,111.70 L472.30,109.83 L472.55,107.97 L472.80,106.11 L473.05,104.26 L473.30,102.42 L473.55,100.59 L473.80,98.77 L474.05,96.95 L474.30,95.15 L474.55,93.35 L474.80,91.56 L475.05,89.79 L475.30,88.02 L475.55,86.26 L475.80,84.52 L476.05,82.79 L476.30,81.07 L476.55,79.36 L476.80,77.66 L477.05,75.98 L477.30,74.31 L477.55,72.65 L477.80,71.01 L478.05,69.39 L478.30,67.77 L478.55,66.18 L478.80,64.59 L479.05,63.03 L479.30,61.48 L479.55,59.94 L479.80,58.43 L480.05,56.93 L480.30,55.45 L480.55,53.98 L480.80,52.54 L481.05,51.11 L481.30,49.70 L481.55,48.31 L481.80,46.94 L482.05,45.59 L482.30,44.26 L482.55,42.95 L482.80,41.66 L483.05,40.39 L483.30,39.14 L483.55,37.92 L483.80,36.71 L484.05,35.53 L484.30,34.37 L484.55,33.23 L484.80,32.12 L485.05,31.03 L485.30,29.96 L485.55,28.92 L485.80,27.90 L486.05,26.90 L486.30,25.93 L486.55,24.98 L486.80,24.06 L487.05,23.17 L487.30,22.29 L487.55,21.45 L487.80,20.63 L488.06,19.83 L488.31,19.06 L488.56,18.32 L488.81,17.61 L489.06,16.92 L489.31,16.25 L489.56,15.62 L489.81,15.01 L490.06,14.43 L490.31,13.88 L490.56,13.35 L490.81,12.85 L491.06,12.38 L491.31,11.94 L491.56,11.52 L491.81,11.14 L492.06,10.78 L492.31,10.45 L492.56,10.15 L492.81,9.87 L493.06,9.63 L493.31,9.41 L493.56,9.22 L493.81,9.06 L494.06,8.93 L494.31,8.83 L494.56,8.76 L494.81,8.72 L495.06,8.70 L495.31,8.71 L495.56,8.76 L495.81,8.83 L496.06,8.93 L496.31,9.06 L496.56,9.21 L496.81,9.40 L497.06,9.61 L497.31,9.86 L497.56,10.13 L497.81,10.43 L498.06,10.76 L498.31,11.11 L498.56,11.50 L498.81,11.91 L499.06,12.35 L499.31,12.82 L499.56,13.32 L499.81,13.84 L500.06,14.39 L500.31,14.97 L500.56,15.58 L500.81,16.21 L501.06,16.87 L501.31,17.56 L501.56,18.28 L501.81,19.02 L502.06,19.78 L502.31,20.58 L502.56,21.39 L502.81,22.24 L503.06,23.11 L503.31,24.00 L503.56,24.92 L503.81,25.87 L504.07,26.84 L504.32,27.83 L504.57,28.85 L504.82,29.89 L505.07,30.96 L505.32,32.05 L505.57,33.16 L505.82,34.30 L506.07,35.46 L506.32,36.64 L506.57,37.84 L506.82,39.06 L507.07,40.31 L507.32,41.58 L507.57,42.87 L507.82,44.17 L508.07,45.50 L508.32,46.85 L508.57,48.22 L508.82,49.61 L509.07,51.02 L509.32,52.44 L509.57,53.89 L509.82,55.35 L510.07,56.83 L510.32,58.33 L510.57,59.85 L510.82,61.38 L511.07,62.93 L511.32,64.49 L511.57,66.07 L511.82,67.67 L512.07,69.28 L512.32,70.91 L512.57,72.55 L512.82,74.20 L513.07,75.87 L513.32,77.56 L513.57,79.25 L513.82,80.96 L514.07,82.68 L514.32,84.41 L514.57,86.15 L514.82,87.91 L515.07,89.67 L515.32,91.45 L515.57,93.24 L515.82,95.03 L516.07,96.84 L516.32,98.65 L516.57,100.48 L516.82,102.31 L517.07,104.15 L517.32,105.99 L517.57,107.85 L517.82,109.71 L518.07,111.58 L518.32,113.45 L518.57,115.33 L518.82,117.22 L519.07,119.11 L519.32,121.01 L519.57,122.91 L519.82,124.81 L520.08,126.72 L520.33,128.63 L520.58,130.54 L520.83,132.46 L521.08,134.38 L521.33,136.30 L521.58,138.23 L521.83,140.15 L522.08,142.08 L522.33,144.00 L522.58,145.93 L522.83,147.86 L523.08,149.79 L523.33,151.71 L523.58,153.64 L523.83,155.56 L524.08,157.49 L524.33,159.41 L524.58,161.33 L524.83,163.24 L525.08,165.16 L525.33,167.07 L525.58,168.98 L525.83,170.88 L526.08,172.79 L526.33,174.68 L526.58,176.58 L526.83,178.46 L527.08,180.35 L527.33,182.23 L527.58,184.10 L527.83,185.97 L528.08,187.83 L528.33,189.69 L528.58,191.54 L528.83,193.38 L529.08,195.22 L529.33,197.04 L529.58,198.87 L529.83,200.68 L530.08,202.49 L530.33,204.29 L530.58,206.08 L530.83,207.86 L531.08,209.64 L531.33,211.40 L531.58,213.16 L531.83,214.91 L532.08,216.65 L532.33,218.38 L532.58,220.10 L532.83,221.81 L533.08,223.51 L533.33,225.20 L533.58,226.88 L533.83,228.55 L534.08,230.21 L534.33,231.86 L534.58,233.50 L534.83,235.12 L535.08,236.74 L535.33,238.34 L535.58,239.94 L535.83,241.52 L536.09,243.09 L536.34,244.65 L536.59,246.20 L536.84,247.74 L537.09,249.26 L537.34,250.78 L537.59,252.28 L537.84,253.77 L538.09,255.24 L538.34,256.71 L538.59,258.16 L538.84,259.60 L539.09,261.03 L539.34,262.44 L539.59,263.84 L539.84,265.23 L540.09,266.61 L540.34,267.98 L540.59,269.33 L540.84,270.67 L541.09,271.99 L541.34,273.31 L541.59,274.61 L541.84,275.90 L542.09,277.17 L542.34,278.44 L542.59,279.69 L542.84,280.92 L543.09,282.15 L543.34,283.36 L543.59,284.56 L543.84,285.74 L544.09,286.91 L544.34,288.07 L544.59,289.22 L544.84,290.36 L545.09,291.48 L545.34,292.59 L545.59,293.68 L545.84,294.76 L546.09,295.84 L546.34,296.89 L546.59,297.94 L546.84,298.97 L547.09,299.99 L547.34,301.00 L547.59,302.00 L547.84,302.98 L548.09,303.95 L548.34,304.91 L548.59,305.86 L548.84,306.79 L549.09,307.71 L549.34,308.62 L549.59,309.52 L549.84,310.41 L550.09,311.28 L550.34,312.15 L550.59,313.00 L550.84,313.84 L551.09,314.67 L551.34,315.48 L551.59,316.29 L551.84,317.08 L552.10,317.87 L552.35,318.64 L552.60,319.40 L552.85,320.15 L553.10,320.89 L553.35,321.62 L553.60,322.33 L553.85,323.04 L554.10,323.74 L554.35,324.42 L554.60,325.10 L554.85,325.76 L555.10,326.42 L555.35,327.06 L555.60,327.70 L555.85,328.32 L556.10,328.94 L556.35,329.54 L556.60,330.14 L556.85,330.72 L557.10,331.30 L557.35,331.87 L557.60,332.43 L557.85,332.98 L558.10,333.52 L558.35,334.05 L558.60,334.57 L558.85,335.08 L559.10,335.59 L559.35,336.08 L559.60,336.57 L559.85,337.05 L560.10,337.52 L560.35,337.98 L560.60,338.44 L560.85,338.89 L561.10,339.33 L561.35,339.76 L561.60,340.18 L561.85,340.60 L562.10,341.00 L562.35,341.41 L562.60,341.80 L562.85,342.19 L563.10,342.56 L563.35,342.94 L563.60,343.30 L563.85,343.66 L564.10,344.01 L564.35,344.36 L564.60,344.70 L564.85,345.03 L565.10,345.36 L565.35,345.68 L565.60,345.99 L565.85,346.30 L566.10,346.60 L566.35,346.89 L566.60,347.18 L566.85,347.47 L567.10,347.75 L567.35,348.02 L567.60,348.29 L567.85,348.55 L568.11,348.80 L568.36,349.06 L568.61,349.30 L568.86,349.54 L569.11,349.78 L569.36,350.01 L569.61,350.24 L569.86,350.46 L570.11,350.68 L570.36,350.89 L570.61,351.10 L570.86,351.30 L571.11,351.50 L571.36,351.69 L571.61,351.89 L571.86,352.07 L572.11,352.26 L572.36,352.43 L572.61,352.61 L572.86,352.78 L573.11,352.95 L573.36,353.11 L573.61,353.27 L573.86,353.43 L574.11,353.58 L574.36,353.73 L574.61,353.87 L574.86,354.02 L575.11,354.16 L575.36,354.29 L575.61,354.43 L575.86,354.56 L576.11,354.68 L576.36,354.81 L576.61,354.93 L576.86,355.05 L577.11,355.16 L577.36,355.27 L577.61,355.38 L577.86,355.49 L578.11,355.60 L578.36,355.70 L578.61,355.80 L578.86,355.90 L579.11,355.99 L579.36,356.08 L579.61,356.18 L579.86,356.26 L580.11,356.35 L580.36,356.43 L580.61,356.52 L580.86,356.60 L581.11,356.67 L581.36,356.75 L581.61,356.82 L581.86,356.90 L582.11,356.97 L582.36,357.04 L582.61,357.10 L582.86,357.17 L583.11,357.23 L583.36,357.29 L583.61,357.35 L583.86,357.41 L584.12,357.47 L584.37,357.52 L584.62,357.58 L584.87,357.63 L585.12,357.68 L585.37,357.73 L585.62,357.78 L585.87,357.83 L586.12,357.88 L586.37,357.92 L586.62,357.96 L586.87,358.01 L587.12,358.05 L587.37,358.09 L587.62,358.13 L587.87,358.17 L588.12,358.20 L588.37,358.24 L588.62,358.27 L588.87,358.31 L589.12,358.34 L589.37,358.37 L589.62,358.40 L589.87,358.44 L590.12,358.46 L590.37,358.49 L590.62,358.52 L590.87,358.55 L591.12,358.58 L591.37,358.60 L591.62,358.63 L591.87,358.65 L592.12,358.67 L592.37,358.70 L592.62,358.72 L592.87,358.74 L593.12,358.76 L593.37,358.78 L593.62,358.80 L593.87,358.82 L594.12,358.84 L594.37,358.86 L594.62,358.87 L594.87,358.89 L595.12,358.91 L595.37,358.92 L595.62,358.94 L595.87,358.95 L596.12,358.97 L596.37,358.98 L596.62,359.00 L596.87,359.01 L597.12,359.02 L597.37,359.03 L597.62,359.05 L597.87,359.06 L598.12,359.07 L598.37,359.08 L598.62,359.09 L598.87,359.10 L599.12,359.11 L599.37,359.12 L599.62,359.13 L599.87,359.14 L600.13,359.15 L600.38,359.16 L600.63,359.17 L600.88,359.17 L601.13,359.18 L601.38,359.19 L601.63,359.20 L601.88,359.20 L602.13,359.21 L602.38,359.22 L602.63,359.22 L602.88,359.23 L603.13,359.23 L603.38,359.24 L603.63,359.25 L603.88,359.25 L604.13,359.26 L604.38,359.26 L604.63,359.27 L604.88,359.27 L605.13,359.28 L605.38,359.28 L605.63,359.28 L605.88,359.29 L606.38,359.30 L606.88,359.30 L607.38,359.31 L607.88,359.32 L608.38,359.32 L608.88,359.33 L609.38,359.33 L609.88,359.34 L610.38,359.34 L610.88,359.35 L611.63,359.35 L612.38,359.36 L613.13,359.36 L613.88,359.37 L614.88,359.37 L615.88,359.38 L617.14,359.38 L618.64,359.38 L620.64,359.39 L623.39,359.39 L628.39,359.40 L639.90,359.40" fill="none" stroke="#00ff00" stroke-width="3.80" stroke-dasharray="5.03 2.29 9.37 2.29" stroke-dashoffset="16.50" stroke-linejoin="round"/>
</g>
<line x1="64.0" y1="148.98" x2="638.9" y2="148.98" stroke="#ff8000" stroke-width="2.4"/>
<line x1="64.0" y1="314.00" x2="638.9" y2="314.00" stroke="#ff00ff" stroke-width="2.4"/>
<line x1="64.0" y1="356.20" x2="638.9" y2="356.20" stroke="#800080" stroke-width="2.0"/>
<path d="M65.85,7.90 V362.70 H639.70" fill="none" stroke="#000" stroke-width="1.55"/>
<path d="M65.85,8.70 H638.90 V362.70" fill="none" stroke="#222" stroke-width="1.6"/>
<path d="M91.99,362.7 v-3.1 M118.04,362.7 v-5.8 M144.08,362.7 v-3.1 M170.13,362.7 v-3.1 M196.17,362.7 v-3.1 M222.22,362.7 v-5.8 M248.26,362.7 v-3.1 M274.31,362.7 v-3.1 M300.35,362.7 v-3.1 M326.40,362.7 v-5.8 M352.44,362.7 v-3.1 M378.49,362.7 v-3.1 M404.53,362.7 v-3.1 M430.58,362.7 v-5.8 M456.62,362.7 v-3.1 M482.67,362.7 v-3.1 M508.71,362.7 v-3.1 M534.76,362.7 v-5.8 M560.80,362.7 v-3.1 M586.85,362.7 v-3.1 M612.89,362.7 v-3.1 M638.94,362.7 v-5.8 M65.8,359.40 h5.8 M65.8,341.86 h3.1 M65.8,324.33 h3.1 M65.8,306.79 h3.1 M65.8,289.26 h5.8 M65.8,271.72 h3.1 M65.8,254.19 h3.1 M65.8,236.65 h3.1 M65.8,219.12 h5.8 M65.8,201.58 h3.1 M65.8,184.05 h3.1 M65.8,166.51 h3.1 M65.8,148.98 h5.8 M65.8,131.44 h3.1 M65.8,113.91 h3.1 M65.8,96.38 h3.1 M65.8,78.84 h5.8 M65.8,61.30 h3.1 M65.8,43.77 h3.1 M65.8,26.23 h3.1 M65.8,8.70 h5.8" stroke="#000" stroke-width="1.2" fill="none"/>
<path d="M91.99,8.7 v3.4 M118.04,8.7 v6.4 M144.08,8.7 v3.4 M170.13,8.7 v3.4 M196.17,8.7 v3.4 M222.22,8.7 v6.4 M248.26,8.7 v3.4 M274.31,8.7 v3.4 M300.35,8.7 v3.4 M326.40,8.7 v6.4 M352.44,8.7 v3.4 M378.49,8.7 v3.4 M404.53,8.7 v3.4 M430.58,8.7 v6.4 M456.62,8.7 v3.4 M482.67,8.7 v3.4 M508.71,8.7 v3.4 M534.76,8.7 v6.4 M560.80,8.7 v3.4 M586.85,8.7 v3.4 M612.89,8.7 v3.4 M638.94,8.7 v6.4 M638.9,359.40 h-6.4 M638.9,341.86 h-3.4 M638.9,324.33 h-3.4 M638.9,306.79 h-3.4 M638.9,289.26 h-6.4 M638.9,271.72 h-3.4 M638.9,254.19 h-3.4 M638.9,236.65 h-3.4 M638.9,219.12 h-6.4 M638.9,201.58 h-3.4 M638.9,184.05 h-3.4 M638.9,166.51 h-3.4 M638.9,148.98 h-6.4 M638.9,131.44 h-3.4 M638.9,113.91 h-3.4 M638.9,96.38 h-3.4 M638.9,78.84 h-6.4 M638.9,61.30 h-3.4 M638.9,43.77 h-3.4 M638.9,26.23 h-3.4 M638.9,8.70 h-6.4" stroke="#383838" stroke-width="0.8" fill="none"/>
<path d="M191.70,93.60 L200.30,102.20 M191.70,102.20 L200.30,93.60" stroke="#000" stroke-width="2.6" fill="none"/>
<line x1="91" y1="166.4" x2="170.4" y2="166.4" stroke="#0000ff" stroke-width="1.3"/>
<line x1="90.2" y1="191.05" x2="171" y2="191.05" stroke="#ff0000" stroke-width="2.4" stroke-dasharray="19.7 15"/>
<line x1="89.9" y1="215.7" x2="171" y2="215.7" stroke="#00ff00" stroke-width="4.0" stroke-dasharray="4.9 2.4 9.5 2.4"/>
<g transform="translate(30.48,366.95) scale(0.9900,1)" fill="#000"><text><tspan x="0.00" y="0.00" font-size="22.40">0.0</tspan></text></g>
<g transform="translate(30.46,296.81) scale(0.9900,1)" fill="#000"><text><tspan x="0.00" y="0.00" font-size="22.40">0.2</tspan></text></g>
<g transform="translate(29.69,226.67) scale(0.9900,1)" fill="#000"><text><tspan x="0.00" y="0.00" font-size="22.40">0.4</tspan></text></g>
<g transform="translate(30.37,156.53) scale(0.9900,1)" fill="#000"><text><tspan x="0.00" y="0.00" font-size="22.40">0.6</tspan></text></g>
<g transform="translate(30.25,86.39) scale(0.9900,1)" fill="#000"><text><tspan x="0.00" y="0.00" font-size="22.40">0.8</tspan></text></g>
<g transform="translate(30.48,16.25) scale(0.9900,1)" fill="#000"><text><tspan x="12.46" y="0.00" font-size="22.40">.0</tspan></text><path d="M806 0H531V1015Q380 877 176 811V1055Q283 1090 409 1186Q535 1282 582 1409H806Z" transform="translate(0.00,0.00) scale(0.01094,-0.01094)"/></g>
<g transform="translate(95.74,388.20) scale(0.9950,1)" fill="#000"><text><tspan x="0.00" y="0.00" font-size="22.40">−0.4</tspan></text></g>
<g transform="translate(200.30,388.20) scale(0.9950,1)" fill="#000"><text><tspan x="0.00" y="0.00" font-size="22.40">−0.2</tspan></text></g>
<g transform="translate(311.02,388.20) scale(0.9950,1)" fill="#000"><text><tspan x="0.00" y="0.00" font-size="22.40">0.0</tspan></text></g>
<g transform="translate(415.19,388.20) scale(0.9950,1)" fill="#000"><text><tspan x="0.00" y="0.00" font-size="22.40">0.2</tspan></text></g>
<g transform="translate(518.99,388.20) scale(0.9950,1)" fill="#000"><text><tspan x="0.00" y="0.00" font-size="22.40">0.4</tspan></text></g>
<g transform="translate(623.51,388.20) scale(0.9950,1)" fill="#000"><text><tspan x="0.00" y="0.00" font-size="22.40">0.6</tspan></text></g>
<g transform="translate(16.80,185.50) rotate(-90) translate(-54.20,0) scale(0.9808,1)" fill="#000"><text><tspan x="0.00" y="0.00" font-size="22.10">Likelihood</tspan></text></g>
<g transform="translate(342.03,423.50) scale(0.9408,1)" fill="#000"><text><tspan x="0.00" y="0.00" font-size="22.00" font-style="italic">η</tspan></text></g>
<g transform="translate(354.58,427.30) scale(0.9848,1)" fill="#000"><text><tspan x="0.00" y="0.00" font-size="15.80">0</tspan></text></g>
<g transform="translate(600.91,144.90) scale(1.0601,1)" fill="#000"><text><tspan x="9.68" y="0.00" font-size="17.40" font-style="italic">σ</tspan></text><path d="M806 0H531V1015Q380 877 176 811V1055Q283 1090 409 1186Q535 1282 582 1409H806Z" transform="translate(0.00,0.00) scale(0.00850,-0.00850)"/></g>
<g transform="translate(601.37,310.10) scale(1.0391,1)" fill="#000"><text><tspan x="0.00" y="0.00" font-size="17.40">2</tspan><tspan x="9.68" y="0.00" font-size="17.40" font-style="italic">σ</tspan></text></g>
<g transform="translate(601.59,352.10) scale(1.0292,1)" fill="#000"><text><tspan x="0.00" y="0.00" font-size="17.40">3</tspan><tspan x="9.68" y="0.00" font-size="17.40" font-style="italic">σ</tspan></text></g>
<g transform="translate(238.51,50.60) scale(1.0231,1)" fill="#000"><text><tspan x="0.00" y="0.00" font-size="18.80">Binning</tspan></text></g>
<g transform="translate(129.45,86.00) scale(0.9925,1)" fill="#000"><text><tspan x="0.00" y="0.00" font-size="18.80">Pantheon</tspan></text></g>
<g transform="translate(221.58,86.00) scale(0.9834,1)" fill="#000"><text><tspan x="0.00" y="0.00" font-size="18.80" font-style="italic">M</tspan></text></g>
<g transform="translate(237.92,78.10) scale(1.1022,1)" fill="#000"><text><tspan x="0.00" y="0.00" font-size="12.00">B23</tspan></text></g>
<g transform="translate(238.12,90.10) scale(1.1194,1)" fill="#000"><text><tspan x="0.00" y="0.00" font-size="10.40">B</tspan></text></g>
<g transform="translate(102.49,121.50) scale(1.0093,1)" fill="#000"><text><tspan x="0.00" y="0.00" font-size="18.80">Transverse BAO</tspan></text></g>
<g transform="translate(256.58,121.80) scale(1.0065,1)" fill="#000"><text><tspan x="0.00" y="0.00" font-size="18.80" font-style="italic">r</tspan></text></g>
<g transform="translate(264.15,125.30) scale(1.1143,1)" fill="#000"><text><tspan x="0.00" y="0.00" font-size="12.30" font-style="italic">s</tspan></text></g>
<g transform="translate(265.21,113.40) scale(1.0830,1)" fill="#000"><text><tspan x="0.00" y="0.00" font-size="12.50">V</tspan><tspan x="15.29" y="0.00" font-size="12.50">7</tspan></text><path d="M806 0H531V1015Q380 877 176 811V1055Q283 1090 409 1186Q535 1282 582 1409H806Z" transform="translate(8.34,0.00) scale(0.00610,-0.00610)"/></g>
<g transform="translate(191.16,173.90) scale(1.0482,1)" fill="#0000ff"><text><tspan x="0.00" y="0.00" font-size="18.20" font-style="italic">η</tspan><tspan x="11.12" y="1.40" font-size="18.20">=</tspan><tspan x="31.87" y="1.40" font-size="18.20">+</tspan><tspan x="42.50" y="0.00" font-size="18.20" font-style="italic">η</tspan><tspan x="53.61" y="3.80" font-size="13.20">0</tspan><tspan x="60.95" y="0.00" font-size="18.20">z</tspan></text><path d="M806 0H531V1015Q380 877 176 811V1055Q283 1090 409 1186Q535 1282 582 1409H806Z" transform="translate(21.75,0.00) scale(0.00889,-0.00889)"/></g>
<g transform="translate(186.95,198.30) scale(1.0548,1)" fill="#ff0000"><text><tspan x="0.00" y="0.00" font-size="18.20" font-style="italic">η</tspan><tspan x="11.12" y="1.40" font-size="18.20">=</tspan><tspan x="31.87" y="1.40" font-size="18.20">+</tspan><tspan x="42.50" y="0.00" font-size="18.20" font-style="italic">η</tspan><tspan x="53.61" y="3.80" font-size="13.20">0</tspan><tspan x="60.95" y="0.00" font-size="18.20">z/(</tspan><tspan x="91.29" y="1.40" font-size="18.20">+</tspan><tspan x="101.92" y="0.00" font-size="18.20">z)</tspan></text><path d="M806 0H531V1015Q380 877 176 811V1055Q283 1090 409 1186Q535 1282 582 1409H806Z" transform="translate(21.75,0.00) scale(0.00889,-0.00889)"/><path d="M806 0H531V1015Q380 877 176 811V1055Q283 1090 409 1186Q535 1282 582 1409H806Z" transform="translate(81.17,0.00) scale(0.00889,-0.00889)"/></g>
<g transform="translate(186.66,223.10) scale(1.0436,1)" fill="#00ff00"><text><tspan x="0.00" y="0.00" font-size="18.20" font-style="italic">η</tspan><tspan x="11.12" y="1.40" font-size="18.20">=</tspan><tspan x="31.87" y="1.40" font-size="18.20">+</tspan><tspan x="42.50" y="0.00" font-size="18.20" font-style="italic">η</tspan><tspan x="53.61" y="3.80" font-size="13.20">0</tspan><tspan x="60.95" y="0.00" font-size="18.20">ln(</tspan><tspan x="93.31" y="1.40" font-size="18.20">+</tspan><tspan x="103.94" y="0.00" font-size="18.20">z)</tspan></text><path d="M806 0H531V1015Q380 877 176 811V1055Q283 1090 409 1186Q535 1282 582 1409H806Z" transform="translate(21.75,0.00) scale(0.00889,-0.00889)"/><path d="M806 0H531V1015Q380 877 176 811V1055Q283 1090 409 1186Q535 1282 582 1409H806Z" transform="translate(83.19,0.00) scale(0.00889,-0.00889)"/></g>
</svg></body></html>
